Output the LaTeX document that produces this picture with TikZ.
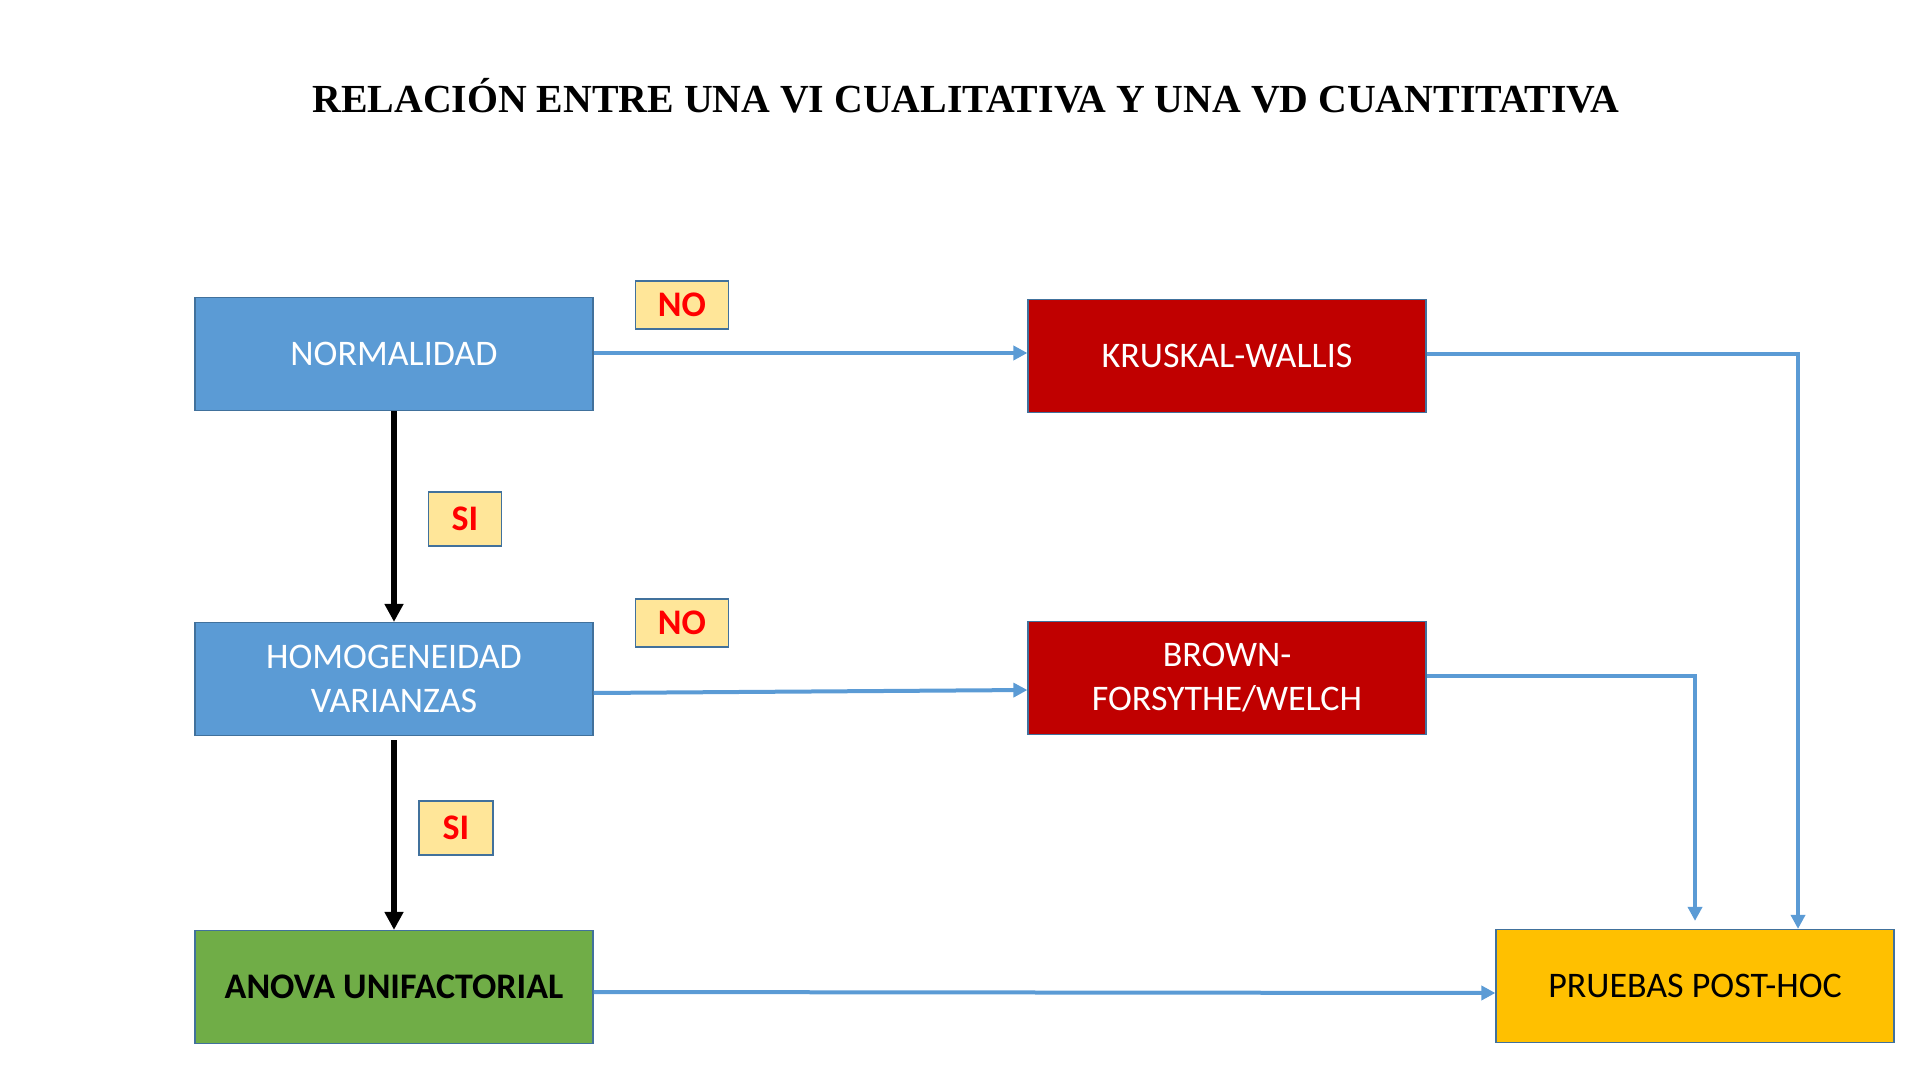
\documentclass[tikz,border=0pt]{standalone}
\usepackage{fontspec}
\setmainfont{Carlito}
\newfontfamily\titlefont{Liberation Serif}
\usetikzlibrary{arrows.meta,calc,positioning}
\definecolor{boxblue}{RGB}{91,155,213}
\definecolor{edgeblue}{RGB}{65,113,156}
\definecolor{boxred}{RGB}{192,0,0}
\definecolor{boxgreen}{RGB}{112,173,71}
\definecolor{boxgold}{RGB}{255,192,0}
\definecolor{tagfill}{RGB}{255,230,153}
\definecolor{tagred}{RGB}{255,0,0}

\begin{document}
\begin{tikzpicture}[x=0.5pt,y=-0.5pt,>=Latex,font=\fontsize{18}{22}\selectfont]
        \tikzset{
          stage/.style={draw=edgeblue,line width=0.6pt,minimum width=199pt,minimum height=56.5pt,align=center,inner sep=2pt},
          tag/.style={draw=edgeblue,line width=0.6pt,fill=tagfill,text=tagred,font=\fontsize{18}{22}\selectfont\bfseries,minimum height=24pt},
          flow/.style={draw=boxblue,line width=2pt,-{Triangle[length=7pt,width=7pt]}},
          yes/.style={draw=black,line width=3pt,-{Triangle[length=9pt,width=9pt]}}
        }
        \useasboundingbox (0,0) rectangle (1920,1080);
        \node[font=\titlefont\fontsize{19.9}{24}\selectfont\bfseries] (title) at (966,96) {RELACIÓN ENTRE UNA VI CUALITATIVA Y UNA VD CUANTITATIVA};
        \node[stage,fill=boxblue,text=white] (norm) at (394,354) {NORMALIDAD};
        \node[stage,fill=boxred,text=white] (kw) at (1227,356) {KRUSKAL-WALLIS};
        \node[stage,fill=boxblue,text=white] (homog) at (394,679) {HOMOGENEIDAD\\VARIANZAS};
        \node[stage,fill=boxred,text=white] (bfw) at (1227,678) {BROWN-\\FORSYTHE/WELCH};
        \node[stage,fill=boxgreen,font=\fontsize{18}{22}\selectfont\bfseries] (anova) at (394,987) {ANOVA UNIFACTORIAL};
        \node[stage,fill=boxgold] (post) at (1695,986) {PRUEBAS POST-HOC};
        \node[tag,minimum width=46.5pt] (no1) at (682,305) {NO};
        \node[tag,minimum width=36.5pt,minimum height=27pt] (si1) at (465,519) {SI};
        \node[tag,minimum width=46.5pt] (no2) at (682,623) {NO};
        \node[tag,minimum width=37pt,minimum height=27pt] (si2) at (456,828) {SI};
        \draw[flow] ([yshift=0.5pt]norm.east) -- ([yshift=1.5pt]kw.west);
        \draw[flow] ([yshift=-7pt]homog.east) -- ([yshift=-6pt]bfw.west);
        \draw[flow] ([yshift=-2.5pt]anova.east) -- ([yshift=-3.5pt]post.west);
        \draw[flow] ([yshift=1pt]kw.east) -| ([xshift=51.5pt]post.north);
        \draw[flow] ([yshift=1pt]bfw.east) -| ([yshift=4pt]post.north);
        \draw[yes] (norm.south) -- (homog.north);
        \draw[yes] ([yshift=-2pt]homog.south) -- (anova.north);
      \end{tikzpicture}
\end{document}
